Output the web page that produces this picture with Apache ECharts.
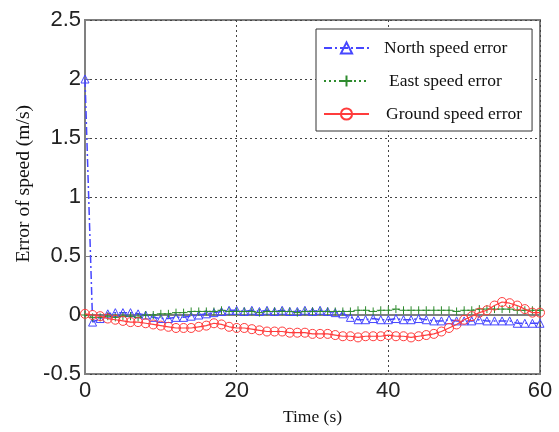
<!DOCTYPE html>
<html>
<head>
<meta charset="utf-8">
<script src="https://cdn.jsdelivr.net/npm/echarts@6/dist/echarts.min.js"></script>
<style>html,body{margin:0;padding:0;background:#fff;}#c{width:559px;height:432px;}</style>
</head>
<body>
<div id="c"></div>
<script>
var times = [0,1,2,3,4,5,6,7,8,9,10,11,12,13,14,15,16,17,18,19,20,21,22,23,24,25,26,27,28,29,30,31,32,33,34,35,36,37,38,39,40,41,42,43,44,45,46,47,48,49,50,51,52,53,54,55,56,57,58,59,60];
var northErr = [2.0,-0.06,-0.03,0.01,0.02,0.02,0.02,0.01,0.0,-0.02,-0.03,-0.03,-0.02,-0.02,-0.01,0.0,0.01,0.02,0.03,0.04,0.04,0.03,0.04,0.03,0.04,0.03,0.04,0.03,0.03,0.04,0.03,0.04,0.03,0.02,0.01,-0.02,-0.04,-0.04,-0.03,-0.04,-0.04,-0.03,-0.04,-0.04,-0.03,-0.04,-0.05,-0.05,-0.04,-0.05,-0.05,-0.05,-0.04,-0.05,-0.05,-0.05,-0.05,-0.07,-0.07,-0.07,-0.07];
var eastErr = [0.0,-0.02,-0.02,-0.01,-0.02,-0.01,-0.01,-0.02,0.0,0.0,0.01,0.01,0.02,0.02,0.03,0.03,0.03,0.03,0.04,0.03,0.03,0.03,0.03,0.02,0.03,0.03,0.03,0.03,0.02,0.03,0.03,0.03,0.03,0.03,0.03,0.03,0.04,0.04,0.03,0.04,0.04,0.05,0.04,0.04,0.04,0.04,0.04,0.04,0.04,0.03,0.04,0.04,0.05,0.05,0.05,0.05,0.05,0.04,0.04,0.04,0.04];
var groundErr = [0.01,0.0,-0.01,-0.03,-0.04,-0.05,-0.06,-0.06,-0.07,-0.08,-0.09,-0.10,-0.11,-0.11,-0.11,-0.10,-0.09,-0.07,-0.08,-0.10,-0.11,-0.11,-0.12,-0.13,-0.14,-0.14,-0.14,-0.15,-0.15,-0.15,-0.16,-0.16,-0.16,-0.17,-0.18,-0.18,-0.19,-0.18,-0.18,-0.18,-0.17,-0.18,-0.18,-0.19,-0.18,-0.17,-0.16,-0.14,-0.11,-0.08,-0.04,-0.01,0.02,0.04,0.08,0.11,0.10,0.08,0.05,0.02,0.02];
var seriesNames = ['North speed error','East speed error','Ground speed error'];
var xTicks = [0,20,40,60];
var yTicks = [-0.5,0,0.5,1,1.5,2,2.5];

function pairs(vals){ return times.map(function(t,i){ return [t, vals[i]]; }); }

var chart = echarts.init(document.getElementById('c'), null, {renderer:'canvas'});
var frame = '#808080';
var gridLine = {show:true, lineStyle:{color:'#444', type:[2,3], width:1}};
var tickFont = {fontFamily:'Liberation Sans, Arial', fontSize:22, color:'#222'};

chart.setOption({
  animation:false,
  backgroundColor:'#fff',
  grid:{left:85, right:19, top:20, bottom:58, show:true, borderColor:frame, borderWidth:2, backgroundColor:'#fff'},
  xAxis:{type:'value', min:0, max:60, interval:20,
    axisLine:{show:true, lineStyle:{color:frame, width:2}},
    axisTick:{show:true, inside:true, length:5, lineStyle:{color:frame}},
    axisLabel:Object.assign({margin:6, formatter:function(v){ return xTicks.indexOf(v)>=0 ? String(v) : ''; }}, tickFont),
    splitLine:gridLine,
    name:'Time (s)', nameLocation:'middle', nameGap:34,
    nameTextStyle:{fontFamily:'Liberation Serif, Times New Roman', fontSize:17.5, color:'#111'}
  },
  yAxis:{type:'value', min:-0.5, max:2.5, interval:0.5,
    axisLine:{show:true, lineStyle:{color:frame, width:2}},
    axisTick:{show:true, inside:true, length:5, lineStyle:{color:frame}},
    axisLabel:Object.assign({margin:4, formatter:function(v){ return yTicks.indexOf(v)>=0 ? String(v) : ''; }}, tickFont),
    splitLine:gridLine
  },
  graphic:[{type:'text', left:14, top:105, rotation:Math.PI/2,
    style:{text:'Error of speed (m/s)', font:'19.5px "Liberation Serif", "Times New Roman"', fill:'#111'}}],
  legend:{orient:'vertical', left:316, top:29, itemWidth:45, itemHeight:14, itemGap:15,
    padding:[10,10,8,7], backgroundColor:'#fff', borderColor:'#333', borderWidth:1,
    textStyle:{fontFamily:'Liberation Serif, Times New Roman', fontSize:17.5, color:'#111', padding:[0,0,0,10]},
    data:[
      {name:seriesNames[0]},
      {name:seriesNames[1], textStyle:{padding:[0,0,0,15]}},
      {name:seriesNames[2], textStyle:{padding:[0,0,0,12]}}
    ]},
  series:[
    {name:seriesNames[0], type:'line', data:pairs(northErr), symbol:'triangle', symbolSize:8, z:3,
      lineStyle:{color:'#4646ff', width:1.5, type:[8,3,2,3]},
      itemStyle:{color:'rgba(0,0,0,0)', borderColor:'#4646ff', borderWidth:1}},
    {name:seriesNames[1], type:'line', data:pairs(eastErr), symbol:'path://M0,5L10,5M5,0L5,10', symbolSize:8, z:4,
      lineStyle:{color:'#2e8b2e', width:1.2, type:[2,3]},
      itemStyle:{color:'rgba(0,0,0,0)', borderColor:'#2e8b2e', borderWidth:1}},
    {name:seriesNames[2], type:'line', data:pairs(groundErr), symbol:'circle', symbolSize:9, z:5,
      lineStyle:{color:'#ff3c3c', width:1.2},
      itemStyle:{color:'rgba(0,0,0,0)', borderColor:'#ff3c3c', borderWidth:1}}
  ]
});
</script>
</body>
</html>
